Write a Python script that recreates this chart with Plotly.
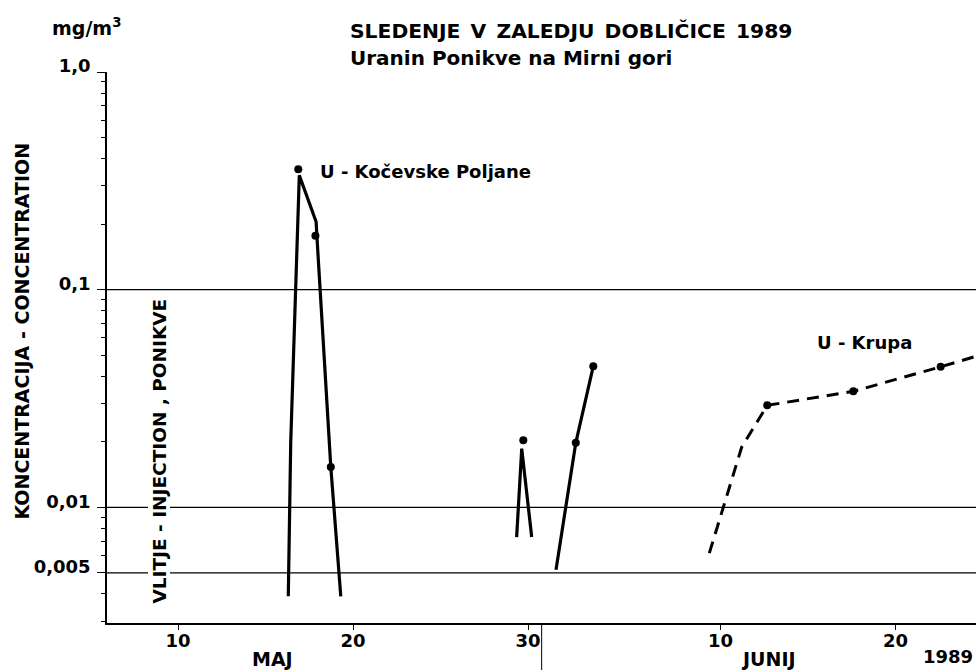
import math
import plotly.graph_objects as go

# ---------------- data (x = day counted from 1 May; 1 June = 32) ----------------
kocevske_line_x = [16.30, 16.44, 16.93, 17.89, 17.96, 18.65, 18.73, 19.30]
kocevske_line_y = [0.0039, 0.020, 0.335, 0.205, 0.163, 0.020, 0.0153, 0.0039]
kocevske_dot_x = [16.87, 17.85, 18.73]
kocevske_dot_y = [0.357, 0.177, 0.0153]

spike_line_x = [29.35, 29.64, 30.21]
spike_line_y = [0.0073, 0.0186, 0.0073]
spike_dot_x = [29.73]
spike_dot_y = [0.0203]

rise_line_x = [31.60, 32.73, 33.73]
rise_line_y = [0.00517, 0.0198, 0.0445]
rise_dot_x = [32.73, 33.73]
rise_dot_y = [0.0198, 0.0445]

krupa_line_x = [40.36, 42.21, 43.67, 48.59, 53.58, 55.6]
krupa_line_y = [0.00616, 0.0189, 0.0294, 0.0341, 0.0442, 0.0494]
krupa_dot_x = [43.67, 48.59, 53.58]
krupa_dot_y = [0.0294, 0.0341, 0.0442]

x_tick_vals = [10, 20, 30, 41, 51]
x_tick_text = ["10", "20", "30", "10", "20"]
y_tick_vals = [1.0, 0.1, 0.01, 0.005]
y_tick_text = ["1,0", "0,1", "0,01", "0,005"]
y_minor_vals = [0.003, 0.004, 0.006, 0.007, 0.008, 0.009,
                0.02, 0.03, 0.04, 0.05, 0.06, 0.07, 0.08, 0.09,
                0.2, 0.3, 0.4, 0.5, 0.6, 0.7, 0.8, 0.9]
grid_levels = [0.1, 0.01, 0.005]
month_divider = 30.78

X_RANGE = [5.94, 55.6]
Y_RANGE = [math.log10(0.00294), 0]

# ---------------- layout helpers ----------------
W, H = 976, 670
L, R, T, B = 107, 0, 72, 47
PW, PH = W - L - R, H - T - B
FONT = "DejaVu Sans"


def px(xp, yp):
    return (xp - L) / PW, (H - B - yp) / PH


fig = go.Figure()

line_style = dict(color="black", width=3.2)
dot_style = dict(color="black", size=8)

for lx, ly in [(kocevske_line_x, kocevske_line_y),
               (spike_line_x, spike_line_y),
               (rise_line_x, rise_line_y)]:
    fig.add_trace(go.Scatter(x=lx, y=ly, mode="lines", line=line_style,
                             hoverinfo="skip", showlegend=False))

fig.add_trace(go.Scatter(x=krupa_line_x, y=krupa_line_y, mode="lines",
                         line=dict(color="black", width=3, dash="12px,8px"),
                         showlegend=False, hoverinfo="skip"))

for dx, dy in [(kocevske_dot_x, kocevske_dot_y), (spike_dot_x, spike_dot_y),
               (rise_dot_x, rise_dot_y), (krupa_dot_x, krupa_dot_y)]:
    fig.add_trace(go.Scatter(x=dx, y=dy, mode="markers", marker=dot_style,
                             showlegend=False))

shapes = []
for g in grid_levels:
    shapes.append(dict(type="line", xref="paper", yref="y", x0=0, x1=1,
                       y0=g, y1=g, line=dict(color="black", width=1.2),
                       layer="below"))
shapes.append(dict(type="line", xref="x", yref="paper", x0=month_divider,
                   x1=month_divider, y0=0, y1=-B / PH,
                   line=dict(color="black", width=1)))

ann = []


def add_text(text, xp, yp, size=18, xanchor="center", yanchor="middle",
             angle=0, bg=None):
    x, y = px(xp, yp)
    d = dict(text=text, x=x, y=y, xref="paper", yref="paper",
             xanchor=xanchor, yanchor=yanchor, showarrow=False,
             textangle=angle,
             font=dict(family=FONT, size=size, color="black", weight="bold"))
    if bg:
        d["bgcolor"] = bg
        d["borderpad"] = 0
    ann.append(d)


add_text("mg/m<sup>3</sup>", 86, 27, size=19)
add_text("SLEDENJE\u2002V\u2002ZALEDJU\u2002DOBLIČICE\u20021989", 348, 31,
         size=20.3, xanchor="left")
add_text("Uranin Ponikve na Mirni gori", 348, 58, size=20, xanchor="left")
add_text("U - Kočevske Poljane", 318, 172, xanchor="left")
add_text("U - Krupa", 815, 342, xanchor="left")
add_text("KONCENTRACIJA - CONCENTRATION", 21.5, 331, size=19, angle=-90)
add_text("VLITJE - INJECTION , PONIKVE", 159.5, 451, size=18.5, angle=-90,
         bg="white")
add_text("MAJ", 272, 659, size=19)
add_text("JUNIJ", 768, 659, size=19)
add_text("1989", 948, 656, size=18)

fig.update_layout(
    width=W, height=H,
    margin=dict(l=L, r=R, t=T, b=B, pad=0),
    paper_bgcolor="white", plot_bgcolor="white",
    font=dict(family=FONT, size=18, color="black", weight="bold"),
    shapes=shapes, annotations=ann, showlegend=False,
)

fig.update_xaxes(
    range=X_RANGE, showgrid=False, zeroline=False,
    showline=True, linecolor="black", linewidth=1.5,
    tickmode="array", tickvals=x_tick_vals, ticktext=x_tick_text,
    ticks="outside", ticklen=5, tickwidth=1.2, tickcolor="black",
    ticklabelstandoff=-4,
    tickfont=dict(family=FONT, size=18, color="black", weight="bold"),
)

fig.update_yaxes(
    type="log", range=Y_RANGE, showgrid=False, zeroline=False,
    showline=True, linecolor="black", linewidth=1.5,
    tickmode="array", tickvals=y_tick_vals, ticktext=y_tick_text,
    ticks="outside", ticklen=8, tickwidth=1.2, tickcolor="black",
    ticklabelshift=-6, ticklabelstandoff=3,
    tickfont=dict(family=FONT, size=18, color="black", weight="bold"),
    minor=dict(tickmode="array", tickvals=y_minor_vals, ticks="outside",
               ticklen=4, tickwidth=1, tickcolor="black", showgrid=False),
)

fig.write_html("out.html",
               config={"displayModeBar": False},
               post_script="document.body.style.margin='0';"
                           "document.body.style.padding='0';")
